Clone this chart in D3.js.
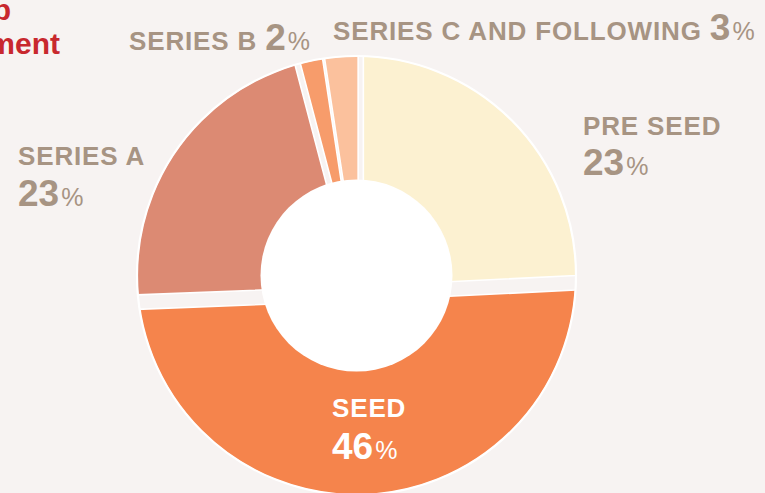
<!DOCTYPE html>
<html>
<head>
<meta charset="utf-8">
<script src="https://cdn.jsdelivr.net/npm/d3@7"></script>
<style>
  html, body { margin: 0; padding: 0; background: #f7f3f2; overflow: hidden; }
  svg { display: block; font-family: "Liberation Sans", Arial, sans-serif; }
</style>
</head>
<body>
<div id="chart"></div>
<script>
// Data
const categories = ["PRE SEED", "SEED", "SERIES A", "SERIES B", "SERIES C AND FOLLOWING"];
const percentLabels = [23, 46, 23, 2, 3];
// share of the ring each slice takes in the picture
const shares = [24.2, 50.1, 21.5, 1.7, 2.4];
const titleLines = ["Share of startups by funding group", "and stage of investment"];

// Style / layout
const colors = ["#fcf1d1", "#f5844c", "#dc8a73", "#f79c6b", "#fbc19d"];
const slicePad = [8.7, 20.3, 8.7, 2.3, 1.7]; // px of gap each slice leaves
const labelColor = "#a79483";
const width = 765, height = 493;
const ring = { cx: 356.5, cy: 275.5, r: 219.5, hole: 96 };
const apex = { x: 359, y: 290.5 }; // where the slice edges meet
const labelLayout = [
    { x: 583, y: 135, dy: 40, stacked: true, fill: labelColor },
    { x: 332, y: 417, dy: 42, stacked: true, fill: "#fff" },
    { x: 18, y: 165, dy: 41, stacked: true, fill: labelColor },
    { x: 129, y: 50, stacked: false, fill: labelColor },
    { x: 333, y: 40, stacked: false, fill: labelColor }
];
const titleLayout = [{ x: 11, y: 20 }, { x: 60, y: 54 }];

const svg = d3.select("#chart")
    .append("svg")
    .attr("width", width)
    .attr("height", height);

svg.append("rect")
    .attr("width", width)
    .attr("height", height)
    .attr("fill", "#f7f3f2");

// Clip slices to the ring outline
svg.append("defs").append("clipPath")
    .attr("id", "ringClip")
    .append("circle")
    .attr("cx", ring.cx)
    .attr("cy", ring.cy)
    .attr("r", ring.r - 0.5);

const pieData = d3.pie().sort(null).value(d => d)(shares);

const arc = d3.arc()
    .innerRadius(60)
    .outerRadius(270)
    .padRadius(100)
    .padAngle(d => slicePad[d.index] / 100);

svg.append("g")
    .attr("clip-path", "url(#ringClip)")
    .append("g")
    .attr("transform", `translate(${apex.x},${apex.y})`)
    .selectAll("path")
    .data(pieData)
    .enter()
    .append("path")
    .attr("d", arc)
    .attr("fill", (d, i) => colors[i])
    .attr("stroke", "#fff")
    .attr("stroke-width", 1.6);

// white rim and centre hole
svg.append("circle")
    .attr("cx", ring.cx)
    .attr("cy", ring.cy)
    .attr("r", ring.r)
    .attr("fill", "none")
    .attr("stroke", "#fff")
    .attr("stroke-width", 2.2);

svg.append("circle")
    .attr("cx", ring.cx)
    .attr("cy", ring.cy)
    .attr("r", ring.hole)
    .attr("fill", "#fff");

// Labels
const labels = svg.selectAll("g.label")
    .data(categories)
    .enter()
    .append("g")
    .attr("class", "label")
    .attr("fill", (d, i) => labelLayout[i].fill)
    .attr("font-weight", "bold");

labels.each(function (name, i) {
    const L = labelLayout[i];
    const g = d3.select(this);
    const nameText = g.append("text")
        .attr("x", L.x)
        .attr("y", L.y)
        .attr("font-size", 26)
        .attr("letter-spacing", 0.85)
        .text(name);
    let numText;
    if (L.stacked) {
        numText = g.append("text")
            .attr("x", L.x)
            .attr("y", L.y + L.dy);
    } else {
        numText = nameText;
        nameText.append("tspan").text(" ");
    }
    numText.append("tspan")
        .attr("font-size", 37)
        .attr("letter-spacing", 0)
        .text(percentLabels[i]);
    numText.append("tspan")
        .attr("font-size", 25)
        .attr("font-weight", "normal")
        .attr("letter-spacing", 0)
        .attr("dx", 2)
        .text("%");
});

// Title (runs off the left edge as in the source)
svg.selectAll("text.title")
    .data(titleLines)
    .enter()
    .append("text")
    .attr("class", "title")
    .attr("x", (d, i) => titleLayout[i].x)
    .attr("y", (d, i) => titleLayout[i].y)
    .attr("text-anchor", "end")
    .attr("font-size", 30)
    .attr("font-weight", "bold")
    .attr("fill", "#c8282e")
    .text(d => d);
</script>
</body>
</html>
